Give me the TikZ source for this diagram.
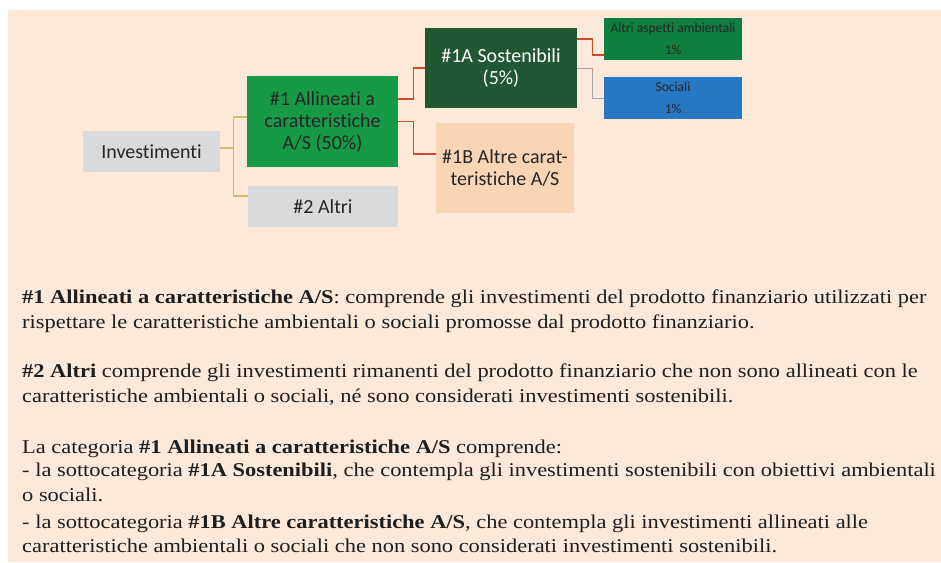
\documentclass[tikz,border=0pt]{standalone}
\usepackage{fontspec}
\usepackage{xcolor}
\usepackage{tikz}
\usetikzlibrary{positioning,calc}
\newfontfamily\boxfont[Ligatures=NoCommon]{Carlito}
\newfontfamily\notefont[FakeStretch=1.15]{Liberation Serif}
\definecolor{peachbg}{HTML}{FCE9DA}
\definecolor{greybox}{HTML}{D9DADC}
\definecolor{greenbox}{HTML}{169A46}
\definecolor{darkgreenbox}{HTML}{215733}
\definecolor{peachbox}{HTML}{F9D4B5}
\definecolor{envbox}{HTML}{0E7F3E}
\definecolor{bluebox}{HTML}{2777C2}
\definecolor{redline}{HTML}{D1492A}
\definecolor{tanline}{HTML}{CDBE6E}
\definecolor{greyline}{HTML}{A6A6A6}
\definecolor{boxtext}{HTML}{262626}
\definecolor{notetext}{HTML}{1E1E1E}
\tikzset{
    box/.style={inner sep=0pt, align=center, text=boxtext,
        font=\boxfont\fontsize{20}{22}\selectfont},
    smallbox/.style={box, font=\boxfont\fontsize{13.5}{22}\selectfont},
    redlink/.style={draw=redline, line width=1.3pt},
    tanlink/.style={draw=tanline, line width=1.3pt},
    greylink/.style={draw=greyline, line width=1pt},
    note/.style={anchor=base west, inner sep=0pt, text=notetext,
        font=\notefont\fontsize{19.5}{25}\selectfont}
}
\begin{document}
\begin{tikzpicture}[x=1pt,y=-1pt]
            \useasboundingbox (0,0) rectangle (941,562);
            % background
            \fill[peachbg] (8,10) rectangle (941,562);
            % boxes of the tree
            \node[box, fill=greybox, minimum width=137pt, minimum height=41pt] (inv) at (151.5,151.5) {Investimenti};
            \node[box, fill=greenbox, minimum width=151pt, minimum height=91pt] (cat1) at (322.5,121.5) {\#1 Allineati a\\caratteristiche\\A/S (50\%)};
            \node[box, fill=greybox, minimum width=150pt, minimum height=41pt] (cat2) at (323,206.5) {\#2 Altri};
            \node[box, fill=darkgreenbox, text=white, minimum width=152pt, minimum height=80pt] (sost) at (501,68) {\#1A Sostenibili\\(5\%)};
            \node[box, fill=peachbox, minimum width=138pt, minimum height=90pt] (altre) at (505,168) {\#1B Altre carat-\\teristiche A/S};
            \node[smallbox, fill=envbox, minimum width=138pt, minimum height=42pt] (amb) at (673,39) {Altri aspetti ambientali\\1\%};
            \node[smallbox, fill=bluebox, minimum width=138pt, minimum height=42pt] (soc) at (673,98) {Sociali\\1\%};
            % connectors
            \draw[tanlink] ([yshift=3.5pt]inv.east) -- ++(13,0) |- ([yshift=4.5pt]cat1.west);
            \draw[tanlink] ([yshift=3.5pt]inv.east) -- ++(13,0) |- ([yshift=10.5pt]cat2.west);
            \draw[redlink] ([yshift=22.5pt]cat1.east) -- ++(15,0) |- (sost.west);
            \draw[redlink] (cat1.east) -- ++(15,0) |- ([yshift=14pt]altre.west);
            \draw[redlink] ([yshift=29pt]sost.east) -- ++(15,0) |- ([yshift=-16pt]amb.west);
            \draw[greylink] (sost.east) -- ++(15,0) |- (soc.west);
            % notes below the tree
            \node[note] (n1) at (22,303) {\bfseries\#1 Allineati a caratteristiche A/S\mdseries: comprende gli investimenti del prodotto finanziario utilizzati per};
            \node[note] (n2) at (22,328) {rispettare le caratteristiche ambientali o sociali promosse dal prodotto finanziario.};
            \node[note] (n3) at (22,377) {\bfseries\#2 Altri\mdseries{} comprende gli investimenti rimanenti del prodotto finanziario che non sono allineati con le};
            \node[note] (n4) at (22,402) {caratteristiche ambientali o sociali, né sono considerati investimenti sostenibili.};
            \node[note] (n5) at (22,453) {La categoria \textbf{\#1 Allineati a caratteristiche A/S} comprende:};
            \node[note] (n6) at (22,476) {- la sottocategoria \textbf{\#1A Sostenibili}, che contempla gli investimenti sostenibili con obiettivi ambientali};
            \node[note] (n7) at (22,501) {o sociali.};
            \node[note] (n8) at (22,528) {- la sottocategoria \textbf{\#1B Altre caratteristiche A/S}, che contempla gli investimenti allineati alle};
            \node[note] (n9) at (22,552) {caratteristiche ambientali o sociali che non sono considerati investimenti sostenibili.};
\end{tikzpicture}
\end{document}
